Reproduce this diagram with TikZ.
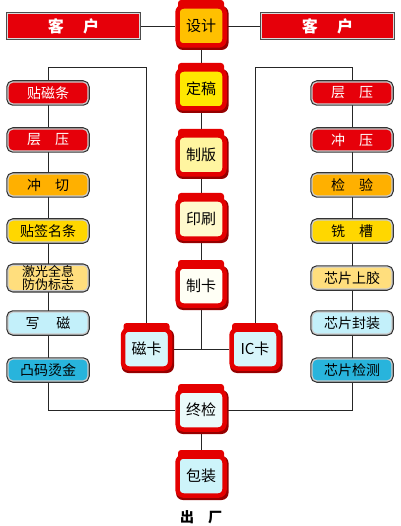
\documentclass[tikz,border=0pt]{standalone}
\usepackage{fontspec}
\newfontfamily\cjk{Noto Sans CJK SC}
\usetikzlibrary{backgrounds}
\definecolor{jred}{RGB}{228,0,0}
\definecolor{jdark}{RGB}{150,0,0}
\definecolor{cRed}{RGB}{230,0,10}
\definecolor{cOrange}{RGB}{255,176,0}
\definecolor{cYellow}{RGB}{255,215,0}
\definecolor{cLtOrange}{RGB}{255,222,125}
\definecolor{cLtCyan}{RGB}{195,240,250}
\definecolor{cCyan}{RGB}{40,180,220}
\definecolor{fSheji}{RGB}{255,192,0}
\definecolor{fDing}{RGB}{255,232,0}
\definecolor{fZhiban}{RGB}{255,245,160}
\definecolor{fYin}{RGB}{255,250,205}
\definecolor{fZhika}{RGB}{255,255,245}
\definecolor{fKa}{RGB}{215,245,250}
\definecolor{fZhong}{RGB}{235,250,250}
\definecolor{fBao}{RGB}{205,244,250}
\tikzset{
  jarbody/.style={draw=jred, line width=4.5pt, rounded corners=6pt, minimum width=47pt,
    minimum height=39pt, inner sep=0pt, font=\cjk\fontsize{15}{17}\selectfont},
  sidebox/.style={rounded corners=5pt, minimum width=80pt, minimum height=22pt, inner sep=0pt,
    preaction={draw=black!80, line width=3.5pt}, draw=black!20, line width=1.2pt,
    font=\cjk\fontsize{14}{15}\selectfont},
  custbox/.style={fill=cRed, minimum width=132pt, minimum height=25pt, inner sep=0pt,
    preaction={draw=black!70, line width=3pt}, draw=black!15, line width=1pt,
    text=white, font=\cjk\bfseries\fontsize{16}{18}\selectfont},
  conn/.style={draw=black!85, line width=0.8pt}
}
\newcommand\jarnode[5]{%
  \fill[jdark, rounded corners=7pt] (#2-25,#3-20) rectangle (#2+27.5,#3+24);
  \fill[jred, rounded corners=3pt] (#2-23,#3-26) rectangle (#2+23,#3-17);
  \node[jarbody, fill=#4] (#1) at (#2,#3) {#5};}
\newcommand\sidenode[6]{%
  \node[sidebox, fill=#4, text=#5] (#1) at (#2,#3) {#6};}
\begin{document}
\begin{tikzpicture}[x=1pt,y=-1pt]
\useasboundingbox (0,0) rectangle (400,526);
% customers
\node[custbox] (kl) at (73.5,26) {客\hspace{1.2em}户};
\node[custbox] (kr) at (327.5,26) {客\hspace{1.2em}户};
% center column
\jarnode{sj}{201}{26}{fSheji}{设计}
\jarnode{dg}{201}{89}{fDing}{定稿}
\jarnode{zb}{201}{155}{fZhiban}{制版}
\jarnode{ys}{201}{219}{fYin}{印刷}
\jarnode{zk}{201}{286}{fZhika}{制卡}
\jarnode{ck}{146.5}{349}{fKa}{磁卡}
\jarnode{ic}{255}{349}{fKa}{IC卡}
\jarnode{zj}{201}{410}{fZhong}{终检}
\jarnode{bz}{201}{476}{fBao}{包装}
% left column
\sidenode{l1}{48}{93}{cRed}{white}{贴磁条}
\sidenode{l2}{48}{140}{cRed}{white}{层\hspace{1em}压}
\sidenode{l3}{48}{185}{cOrange}{black}{冲\hspace{1em}切}
\sidenode{l4}{48}{231}{cYellow}{black}{贴签名条}
\node[sidebox, fill=cLtOrange, align=center, font=\cjk\fontsize{13}{13.5}\selectfont] (l5) at (48,278) {激光全息\\防伪标志};
\sidenode{l6}{48}{323}{cLtCyan}{black}{写\hspace{1.2em}磁}
\sidenode{l7}{48}{370}{cCyan}{black}{凸码烫金}
% right column
\sidenode{r1}{352}{93}{cRed}{white}{层\hspace{1em}压}
\sidenode{r2}{352}{140}{cRed}{white}{冲\hspace{1em}压}
\sidenode{r3}{352}{185}{cOrange}{black}{检\hspace{1em}验}
\sidenode{r4}{352}{231}{cYellow}{black}{铣\hspace{1em}槽}
\sidenode{r5}{352}{278}{cLtOrange}{black}{芯片上胶}
\sidenode{r6}{352}{323}{cLtCyan}{black}{芯片封装}
\sidenode{r7}{352}{370}{cCyan}{black}{芯片检测}
% output label
\node[font=\cjk\bfseries\fontsize{14}{16}\selectfont] (out) at (201,517) {出\hspace{1em}厂};
% connectors
\coordinate (lt) at (48,67);
\coordinate (rt) at (352,67);
\begin{pgfonlayer}{background}
\draw[conn] (kl.east) -- (sj.west);
\draw[conn] (sj.east) -- (kr.west);
\draw[conn] (sj.south) -- (dg.north);
\draw[conn] (dg.south) -- (zb.north);
\draw[conn] (zb.south) -- (ys.north);
\draw[conn] (ys.south) -- (zk.north);
\draw[conn] (zk.south) -- (zk.south |- ck.east);
\draw[conn] (ck.east) -- (ic.west);
\draw[conn] (ck.north) |- (lt) -- (l1.north);
\draw[conn] (ic.north) |- (rt) -- (r1.north);
\draw[conn] (l1) -- (l2); \draw[conn] (l2) -- (l3); \draw[conn] (l3) -- (l4);
\draw[conn] (l4) -- (l5); \draw[conn] (l5) -- (l6); \draw[conn] (l6) -- (l7);
\draw[conn] (r1) -- (r2); \draw[conn] (r2) -- (r3); \draw[conn] (r3) -- (r4);
\draw[conn] (r4) -- (r5); \draw[conn] (r5) -- (r6); \draw[conn] (r6) -- (r7);
\draw[conn] (l7.south) |- (zj.west);
\draw[conn] (r7.south) |- (zj.east);
\draw[conn] (zj.south) -- (bz.north);
\end{pgfonlayer}
\end{tikzpicture}
\end{document}
